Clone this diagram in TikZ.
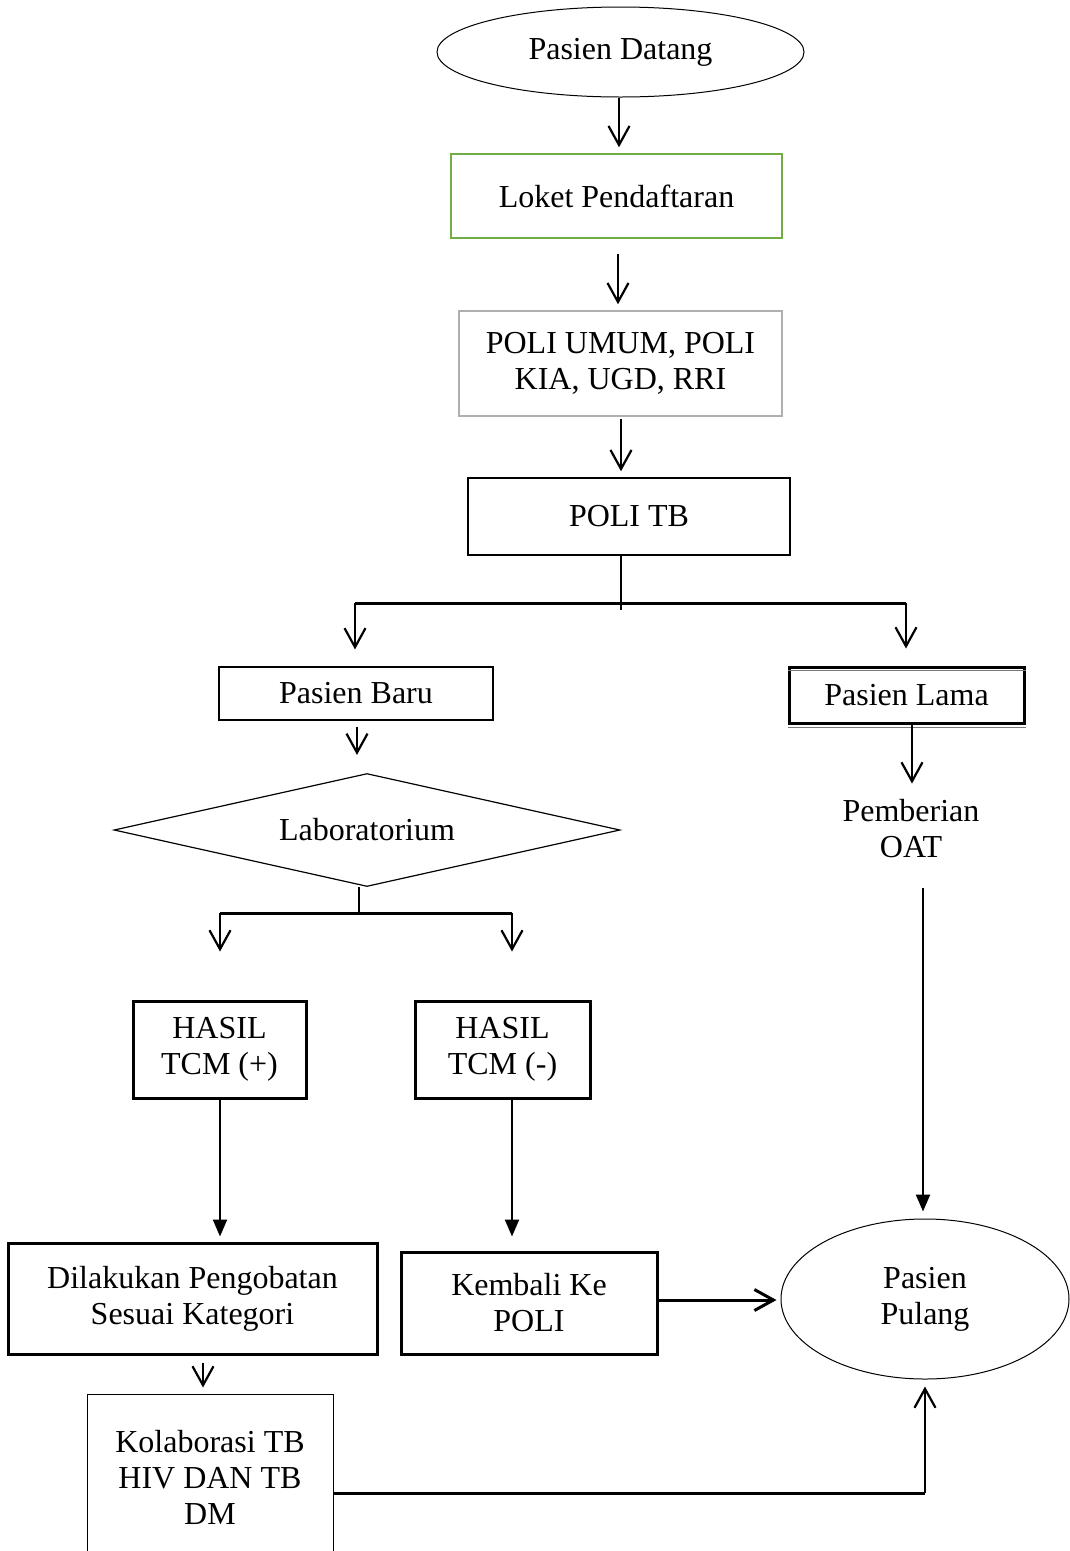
\documentclass[tikz,border=0pt]{standalone}
\usepackage{fontspec}
\setmainfont{Liberation Serif}
\usetikzlibrary{arrows.meta,shapes.geometric}
\definecolor{boxgreen}{RGB}{112,173,71}
\definecolor{boxgray}{RGB}{175,175,175}
\definecolor{shadegray}{RGB}{120,120,120}
\begin{document}
\begin{tikzpicture}[x=1pt,y=-1pt,
  every node/.style={font=\fontsize{32}{36}\selectfont, inner sep=0pt, align=center},
  box/.style={draw, rectangle, line width=#1},
  box/.default=1.5pt,
  oval/.style={draw, ellipse, line width=1pt},
  vee/.style={-{Straight Barb[length=19pt,width=21pt]}, line width=2.2pt},
  solidtip/.style={-{Triangle[length=17pt,width=14pt]}, line width=2.2pt},
  bar/.style={line width=3pt},
]
\fill[white] (0,0) rectangle (1070,1551);
\useasboundingbox (0,0) rectangle (1070,1551);

% ---- nodes ----
\node[oval, minimum width=367pt, minimum height=90pt] (datang) at (620.5,52) {\raisebox{-3pt}{Pasien Datang}};
\node[box, draw=boxgreen, minimum width=331pt, minimum height=84pt] (loket) at (616.5,196) {Loket Pendaftaran};
\node[box, draw=boxgray, minimum width=323pt, minimum height=105pt] (umum) at (620.5,363.5) {POLI UMUM, POLI\\KIA, UGD, RRI};
\node[box, minimum width=322pt, minimum height=77pt] (politb) at (629,516.5) {POLI TB};
\node[box=1.2pt, minimum width=274pt, minimum height=53pt] (baru) at (356,693.5) {Pasien Baru};
\node[box=3pt, minimum width=235pt, minimum height=56pt] (lama) at (906.5,695) {Pasien Lama};
\node[draw, diamond, aspect=4.5, line width=1.2pt, minimum width=506pt, minimum height=113pt] (lab) at (367,830) {\raisebox{-3pt}{Laboratorium}};
\node (oat) at (911,829) {Pemberian\\OAT};
\node[box=3pt, minimum width=173pt, minimum height=97pt] (tcmp) at (219.5,1049.5) {HASIL\\TCM (+)};
\node[box=3pt, minimum width=175pt, minimum height=97pt] (tcmn) at (502.5,1049.5) {HASIL\\TCM (-)};
\node[box=3pt, minimum width=369pt, minimum height=111pt] (obat) at (192.5,1298.5) {Dilakukan Pengobatan\\Sesuai Kategori};
\node[box=3pt, minimum width=256pt, minimum height=102pt] (kembali) at (529,1303) {Kembali Ke\\POLI};
\node[box=1pt, minimum width=246pt, minimum height=166pt] (kolab) at (210,1477) {Kolaborasi TB\\HIV DAN TB\\DM};
\node[oval, minimum width=288pt, minimum height=160pt] (pulang) at (925,1299) {Pasien\\Pulang};

% double rule on the Pasien Lama box
\draw[shadegray, line width=1pt] ([yshift=-5pt]lama.north west) -- ([yshift=-5pt]lama.north east);
\draw[shadegray, line width=1pt] ([yshift=-3pt]lama.south west) -- ([yshift=-3pt]lama.south east);

% ---- branch points ----
\coordinate (split) at (621,603);
\coordinate (splitL) at (355,603);
\coordinate (splitR) at (906,603);
\coordinate (labsplit) at (359,913);
\coordinate (labL) at (220,913);
\coordinate (labR) at (512,913);
\coordinate (oatend) at (923,888);
\coordinate (kolabout) at (333,1493);
\coordinate (kembaliout) at (657,1300);

% ---- connectors, top column ----
\draw[vee, shorten >=6pt] (datang.south -| 619,0) -- (loket.north -| 619,0);
\draw[vee, shorten <=15pt, shorten >=6pt] (loket.south -| 618,0) -- (umum.north -| 618,0);
\draw[vee, shorten <=2pt, shorten >=6pt] (umum.south -| 621,0) -- (politb.north -| 621,0);

% POLI TB branches to new and returning patients
\draw[line width=2pt] (politb.south -| split) -- ([yshift=-7pt]split);
\draw[bar] (splitL) -- (splitR);
\draw[vee, shorten >=17pt] (splitL) -- (baru.north -| splitL);
\draw[vee, shorten >=17pt] (splitR) -- (lama.north -| splitR);

% new patients
\draw[vee, shorten <=6pt, shorten >=18pt] (baru.south -| 357,0) -- (lab.north -| 357,0);
\draw[line width=2pt] (lab.south -| labsplit) -- (labsplit);
\draw[bar] (labL) -- (labR);
\draw[vee, shorten >=48pt] (labL) -- (tcmp.north -| labL);
\draw[vee, shorten >=48pt] (labR) -- (tcmn.north -| labR);
\draw[solidtip, shorten >=5pt] (tcmp.south -| labL) -- (obat.north -| labL);
\draw[solidtip, shorten >=14pt] (tcmn.south -| labR) -- (kembali.north -| labR);
\draw[vee, shorten <=7pt, shorten >=6pt] (obat.south -| 203,0) -- (kolab.north -| 203,0);

% returning patients
\draw[vee, shorten >=16pt] (lama.south -| 912,0) -- (oat.north -| 912,0);
\draw[solidtip, shorten >=7pt] (oatend) -- (oatend |- pulang.north);

% to Pasien Pulang
\draw[vee, line width=3pt, shorten >=4pt] (kembaliout) -- (kembaliout -| pulang.west);
\draw[bar] (kolabout) -- (kolabout -| pulang.south);
\draw[vee, shorten >=7pt] (kolabout -| pulang.south) -- (pulang.south);
\end{tikzpicture}
\end{document}
